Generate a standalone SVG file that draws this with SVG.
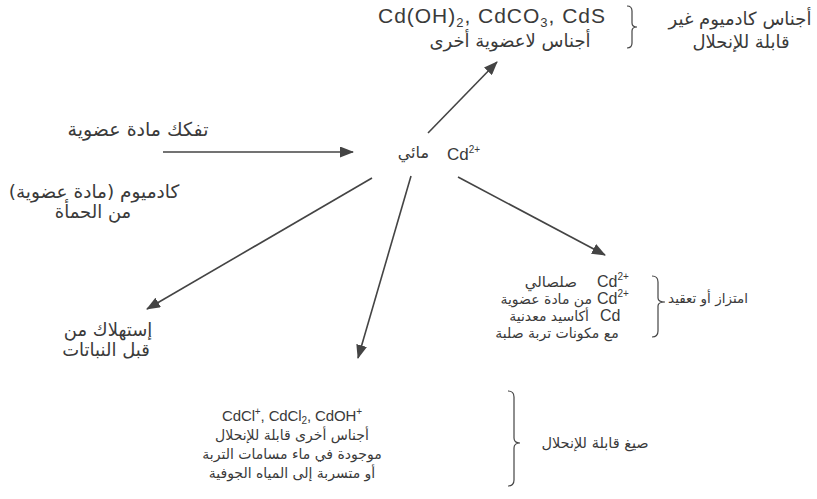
<svg xmlns="http://www.w3.org/2000/svg" width="817" height="499" viewBox="0 0 817 499">
<style>
.lat{font-family:"Liberation Sans",Arial,sans-serif;fill:#3a3a3a;}
.ar{font-family:"DejaVu Sans","Noto Sans",sans-serif;fill:#3a3a3a;}
.big{font-size:18px;}
.sm{font-size:14px;}
.c{text-anchor:middle;}
.e{text-anchor:end;}
.conn line{stroke:#444;stroke-width:1.6;marker-end:url(#ah);}
.brace{fill:none;stroke:#444;stroke-width:1.2;}
</style>
<defs>
<marker id="ah" viewBox="0 0 14 11" refX="13" refY="5.5" markerWidth="14" markerHeight="11" markerUnits="userSpaceOnUse" orient="auto">
<path d="M0,0 L14,5.5 L0,11 Z" fill="#444"/>
</marker>
</defs>
<rect width="817" height="499" fill="#fff"/>

<g class="conn">
<line x1="428" y1="133" x2="497" y2="62"/>
<line x1="163" y1="152" x2="353" y2="152"/>
<line x1="458" y1="177" x2="605" y2="255"/>
<line x1="372" y1="178" x2="147" y2="309"/>
<line x1="411" y1="176" x2="358" y2="358"/>
</g>

<g id="center">
<text class="ar e" x="429" y="158" font-size="16">مائي</text>
<text class="lat" x="447" y="160" font-size="17">Cd<tspan font-size="10" dy="-7">2+</tspan></text>
</g>

<g id="insoluble">
<text class="lat" x="378" y="23" font-size="21" textLength="227" lengthAdjust="spacing">Cd(OH)<tspan font-size="13" dy="4">2</tspan><tspan dy="-4">, CdCO</tspan><tspan font-size="13" dy="4">3</tspan><tspan dy="-4">, CdS</tspan></text>
<text class="ar big c" x="510" y="47">أجناس لاعضوية أخرى</text>
<path class="brace" d="M627,6 Q632,6 632,11 L632,23 Q632,27 637,27 Q632,27 632,31 L632,43 Q632,48 627,48"/>
<text class="ar big c" x="740" y="25">أجناس كادميوم غير</text>
<text class="ar big c" x="741" y="48">قابلة للإنحلال</text>
</g>

<g id="source">
<text class="ar c" x="138" y="136" font-size="19">تفكك مادة عضوية</text>
<text class="ar c" x="94" y="198" font-size="18.5">كادميوم (مادة عضوية)</text>
<text class="ar big c" x="93" y="218">من الحمأة</text>
</g>

<g id="adsorption">
<text class="lat" x="597" y="287" font-size="16">Cd<tspan font-size="10" dy="-7">2+</tspan></text>
<text class="ar e" x="577" y="287" font-size="15">صلصالي</text>
<text class="lat" x="597" y="304" font-size="16">Cd<tspan font-size="10" dy="-7">2+</tspan></text>
<text class="ar sm e" x="592" y="304">من مادة عضوية</text>
<text class="lat" x="600" y="321" font-size="16">Cd</text>
<text class="ar sm e" x="589" y="321">أكاسيد معدنية</text>
<text class="ar sm c" x="557" y="338">مع مكونات تربة صلبة</text>
<path class="brace" d="M652,276 Q658,276 658,282 L658,298 Q658,302 665,302 Q658,302 658,306 L658,331 Q658,337 652,337"/>
<text class="ar c" x="708" y="303" font-size="13.5">امتزاز أو تعقيد</text>
</g>

<g id="plants">
<text class="ar big c" x="108" y="336">إستهلاك من</text>
<text class="ar big c" x="106" y="356">قبل النباتات</text>
</g>

<g id="soluble">
<text class="lat" x="222" y="421" font-size="15" textLength="140" lengthAdjust="spacing">CdCl<tspan font-size="10" dy="-6">+</tspan><tspan dy="6">, CdCl</tspan><tspan font-size="10" dy="3">2</tspan><tspan dy="-3">, CdOH</tspan><tspan font-size="10" dy="-6">+</tspan></text>
<text class="ar sm c" x="292" y="440">أجناس أخرى قابلة للإنحلال</text>
<text class="ar sm c" x="292" y="459">موجودة في ماء مسامات التربة</text>
<text class="ar sm c" x="292" y="478">أو متسربة إلى المياه الجوفية</text>
<path class="brace" d="M508,391 Q514,391 514,397 L514,438 Q514,443 520,443 Q514,443 514,448 L514,480 Q514,486 508,486"/>
<text class="ar c" x="595" y="448" font-size="14.5">صيغ قابلة للإنحلال</text>
</g>
</svg>
